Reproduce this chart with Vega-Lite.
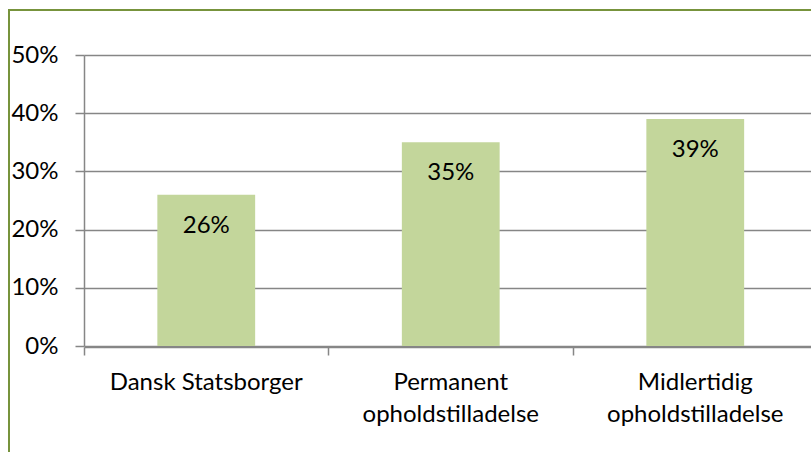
{
  "$schema": "https://vega.github.io/schema/vega-lite/v6.json",
  "width": 803,
  "height": 443,
  "autosize": "none",
  "padding": {"left": 9, "top": 10, "right": 0, "bottom": 0},
  "background": "white",
  "data": {
    "values": [
      {"status": "Dansk Statsborger", "andel": 0.26},
      {"status": "Permanent opholdstilladelse", "andel": 0.35},
      {"status": "Midlertidig opholdstilladelse", "andel": 0.39}
    ]
  },
  "encoding": {
    "y": {
      "field": "andel",
      "type": "quantitative",
      "scale": {"domain": [0, 0.5], "range": [336, 45], "nice": false, "zero": true},
      "axis": {
        "values": [0, 0.1, 0.2, 0.3, 0.4, 0.5],
        "format": ".0%",
        "offset": -75,
        "tickSize": 9,
        "labelPadding": 17,
        "grid": true,
        "domain": true,
        "title": null,
        "labelBaseline": "middle"
      }
    }
  },
  "layer": [
    {
      "mark": {"type": "bar", "color": "#C3D69B", "width": {"band": 0.4}},
      "encoding": {
        "x": {
          "field": "status",
          "type": "nominal",
          "sort": null,
          "scale": {"range": [75, 808.5], "paddingInner": 0, "paddingOuter": 0},
          "axis": {
            "orient": "bottom",
            "offset": -106,
            "bandPosition": 0,
            "labels": false,
            "ticks": true,
            "tickSize": 8,
            "domain": true,
            "grid": false,
            "title": null
          }
        }
      }
    },
    {
      "mark": {"type": "text", "dy": 38, "baseline": "alphabetic", "align": "center", "font": "Lato", "fontSize": 24, "color": "#000000"},
      "encoding": {
        "x": {
          "field": "status",
          "type": "nominal",
          "sort": null,
          "axis": {
            "orient": "bottom",
            "offset": -106,
            "labels": true,
            "ticks": false,
            "domain": false,
            "grid": false,
            "labelPadding": 23,
            "labelBaseline": "top",
            "labelAlign": "center",
            "labelAngle": 0,
            "labelLineHeight": 32.7,
            "labelLimit": 0,
            "labelOverlap": false,
            "labelFlush": false,
            "labelExpr": "datum.label == 'Dansk Statsborger' ? datum.label : split(datum.label, ' ')",
            "title": null
          }
        },
        "text": {"field": "andel", "type": "quantitative", "format": ".0%"}
      }
    }
  ],
  "resolve": {"axis": {"x": "independent"}},
  "config": {
    "view": {"stroke": "#77933C", "strokeWidth": 2},
    "axis": {
      "domainColor": "#868686",
      "tickColor": "#868686",
      "gridColor": "#868686",
      "domainWidth": 1.5,
      "tickWidth": 1.5,
      "gridWidth": 1.5,
      "labelFont": "Lato",
      "labelFontSize": 24,
      "labelColor": "#000000"
    }
  }
}
